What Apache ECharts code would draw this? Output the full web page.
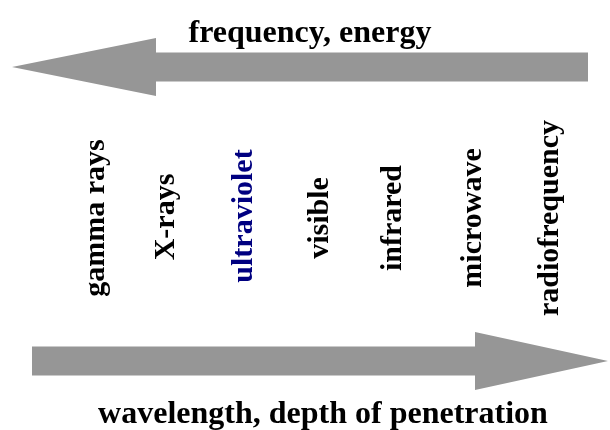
<!DOCTYPE html>
<html>
<head>
<meta charset="utf-8">
<script src="https://cdn.jsdelivr.net/npm/echarts@6/dist/echarts.min.js"></script>
<style>
html,body{margin:0;padding:0;background:#fff;}
#chart{width:610px;height:430px;}
</style>
</head>
<body>
<div id="chart"></div>
<script>
// Spectrum bands (left = high frequency, right = long wavelength)
const bands = ['gamma rays', 'X-rays', 'ultraviolet', 'visible', 'infrared', 'microwave', 'radiofrequency'];
const bandPos = [96, 166, 244, 320, 393, 473, 550];
const bandLevel = [218, 217, 216, 218, 218, 218, 218];
const highlighted = ['ultraviolet'];

// Arrows: [tail, head base, tip, level]
const arrowNames = ['frequency, energy', 'wavelength, depth of penetration'];
const arrowTail = [588, 32];
const arrowHeadBase = [156, 475];
const arrowTip = [12, 608];
const arrowLevel = [67, 361];

const serif = '"Liberation Serif", "Times New Roman", serif';
const grey = '#969696';

const chart = echarts.init(document.getElementById('chart'), null, {renderer: 'canvas'});

const arrowData = arrowNames.map((n, i) => ({
  name: n,
  value: [arrowTail[i], arrowHeadBase[i], arrowTip[i], arrowLevel[i]]
}));

const bandData = bands.map((b, i) => ({
  name: b,
  value: [bandPos[i], bandLevel[i]],
  label: { color: highlighted.includes(b) ? '#000080' : '#000000' }
}));

chart.setOption({
  animation: false,
  backgroundColor: '#ffffff',
  title: [
    { text: arrowNames[0], left: 310, top: 18, textAlign: 'center', padding: 0,
      textStyle: { fontFamily: serif, fontWeight: 'bold', fontSize: 32, color: '#000' } },
    { text: arrowNames[1], left: 323, top: 399, textAlign: 'center', padding: 0,
      textStyle: { fontFamily: serif, fontWeight: 'bold', fontSize: 32, color: '#000' } }
  ],
  grid: { left: 0, right: 0, top: 0, bottom: 0 },
  xAxis: { type: 'value', min: 0, max: 610, show: false },
  yAxis: { type: 'value', min: 0, max: 430, inverse: true, show: false },
  series: [
    {
      type: 'custom',
      clip: false,
      encode: { x: [0, 1, 2], y: 3 },
      data: arrowData,
      renderItem: function (params, api) {
        const tail = api.coord([api.value(0), api.value(3)]);
        const base = api.coord([api.value(1), api.value(3)]);
        const tip = api.coord([api.value(2), api.value(3)]);
        const sh = 14.5, hh = 29;
        const y = tail[1];
        return {
          type: 'polygon',
          shape: { points: [
            [tail[0], y - sh], [base[0], y - sh], [base[0], y - hh], [tip[0], y],
            [base[0], y + hh], [base[0], y + sh], [tail[0], y + sh]
          ] },
          style: { fill: grey }
        };
      }
    },
    {
      type: 'scatter',
      symbolSize: 0,
      itemStyle: { opacity: 1 },
      data: bandData,
      label: {
        show: true,
        position: 'inside',
        formatter: '{b}',
        rotate: 90,
        opacity: 1,
        fontFamily: serif,
        fontWeight: 'bold',
        fontSize: 30
      }
    }
  ]
});
</script>
</body>
</html>
